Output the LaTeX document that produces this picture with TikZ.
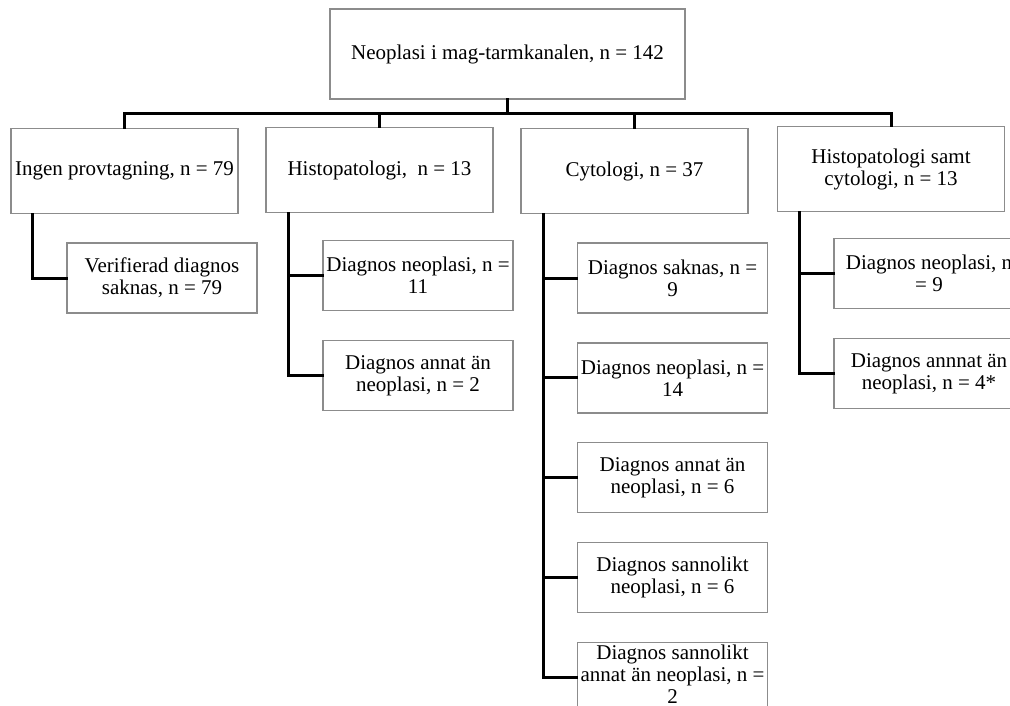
\documentclass[tikz,border=0pt]{standalone}
\usepackage{fontspec}
\setmainfont{Liberation Serif}
\usetikzlibrary{positioning}
\definecolor{boxgray}{RGB}{140,140,140}
\tikzset{
  box/.style={draw=boxgray, line width=1.2pt, align=center, inner xsep=0pt, inner ysep=0pt,
    font=\fontsize{21}{22}\selectfont},
  topbox/.style={box, minimum width=355pt, minimum height=90pt},
  groupbox/.style={box, minimum width=227pt, minimum height=85pt},
  leafbox/.style={box, minimum width=190pt, minimum height=70pt},
  conn/.style={line width=3pt, line cap=rect}
}
\begin{document}
\begin{tikzpicture}[x=1pt, y=-1pt, node distance=28.7pt]
\clip (0,0) rectangle (1010,706);
\fill[white] (0,0) rectangle (1010,706);
% top level
\node (root) [topbox] at (507.5,54) {Neoplasi i mag-tarmkanalen, n = 142};
% sampling groups
\node (ingen) [groupbox] at (124.5,171) {Ingen provtagning, n = 79};
\node (histo) [groupbox] at (379.5,170) {Histopatologi, \ n = 13};
\node (cyto) [groupbox] at (634.5,171) {Cytologi, n = 37};
\node (hsc) [groupbox] at (891,169) {Histopatologi samt\\cytologi, n = 13};
% outcomes
\node (verif) [leafbox] at (162,278) {Verifierad diagnos\\saknas, n = 79};
\node (h1) [leafbox] at (418,275.5) {Diagnos neoplasi, n =\\11};
\node (h2) [leafbox, below=of h1] {Diagnos annat än\\neoplasi, n = 2};
\node (c1) [leafbox] at (672.5,278) {Diagnos saknas, n =\\9};
\node (c2) [leafbox, below=of c1] {Diagnos neoplasi, n =\\14};
\node (c3) [leafbox, below=of c2] {Diagnos annat än\\neoplasi, n = 6};
\node (c4) [leafbox, below=of c3] {Diagnos sannolikt\\neoplasi, n = 6};
\node (c5) [leafbox, below=of c4, text depth=6pt] {Diagnos sannolikt\\annat än neoplasi, n =\\2};
\node (s1) [leafbox] at (929,273.5) {Diagnos neoplasi, n\\= 9};
\node (s2) [leafbox, below=of s1] {Diagnos annnat än\\neoplasi, n = 4*};
% connectors
\coordinate (bus) at (507.5,114);
\draw[conn] (root.south) -- (bus);
\foreach \g in {ingen,histo,cyto,hsc}
  \draw[conn] (bus) -| (\g.north);
\draw[conn] ([xshift=22pt]ingen.south west) |- (verif.west);
\foreach \c in {h1,h2}
  \draw[conn] ([xshift=23pt]histo.south west) |- (\c.west);
\foreach \c in {c1,c2,c3,c4,c5}
  \draw[conn] ([xshift=23pt]cyto.south west) |- (\c.west);
\foreach \c in {s1,s2}
  \draw[conn] ([xshift=23pt]hsc.south west) |- (\c.west);
\end{tikzpicture}
\end{document}
